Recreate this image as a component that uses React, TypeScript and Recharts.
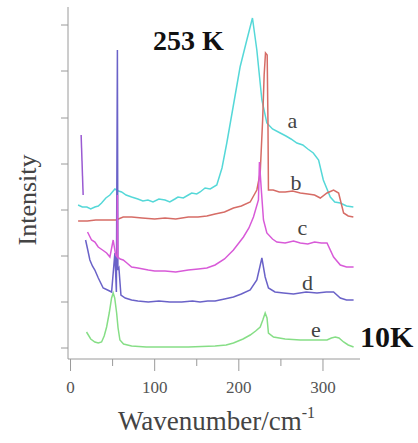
import React from "react";
import { LineChart, Line, XAxis, YAxis } from "recharts";

// Raman spectra, stacked with offsets (arbitrary intensity units)
const waveA = [9, 14, 19.4, 24, 28.9, 33, 36.9, 42, 46.8, 52.7, 57, 60.7, 66, 72.6, 80, 86, 92, 98, 105, 112.3, 118, 124, 127.7, 134, 140, 144, 150, 154, 159.9, 166, 173.8, 180, 185.7, 193.2, 201.5, 209.5, 216.2, 221.4, 227.4, 233.3, 240, 249.2, 256, 262, 269, 276, 282, 288.5, 294.8, 300.4, 308.7, 314, 320.6, 328, 336.1];
const intensityA = [153, 151, 151, 149, 151, 152, 155, 160, 163, 169, 167, 166, 163, 161, 159, 157, 158, 156, 159, 158, 156, 159, 161, 160, 163, 165, 164, 166, 170, 169, 173, 190, 215, 251, 291, 318, 340, 308, 258, 235, 229, 225, 222, 219, 215, 213, 209, 205, 198, 178, 161, 156, 155, 152, 151];

const waveB = [9, 20, 30, 44.8, 54, 62.6, 72.6, 85, 100, 112.3, 125, 140, 151.5, 162, 171.8, 183, 193.6, 203, 213.5, 221.4, 225.4, 228.3, 230.1, 231.7, 233.7, 234.6, 235.2, 240.8, 248, 255.1, 264, 273, 282, 290, 296.8, 304.8, 312.6, 318.6, 324.5, 330, 336.1];
const intensityB = [137, 137, 138, 138, 138, 141, 141, 140, 139, 140, 139, 141, 141, 142, 144, 146, 150, 152, 156, 168, 185, 238, 283, 305, 303, 238, 168, 168, 166, 166, 167, 165, 164, 163, 160, 165, 168, 165, 145, 142, 141];

const waveC = [20.2, 25, 29, 32.9, 38, 42.9, 46.8, 50.7, 53.6, 55.4, 55.7, 56.2, 59, 62.6, 67, 72.6, 80, 92.4, 100, 112.3, 125, 140, 151.9, 162, 171.8, 183, 193.6, 205.5, 212, 217.4, 223.3, 224.5, 227, 229.3, 233.3, 240, 245.2, 255, 265, 273, 282, 290, 298, 304.8, 312.6, 320.6, 328, 336.4];
const intensityC = [126, 118, 116, 111, 108, 105, 101, 118, 103, 101, 163, 101, 99, 98, 95, 91, 90, 88, 87, 87, 86, 88, 89, 90, 93, 99, 108, 121, 130, 141, 158, 196, 165, 138, 125, 119, 116, 115, 117, 115, 114, 116, 115, 115, 101, 93, 91, 91];

const waveD = [17.9, 20.5, 23, 26, 28.9, 33, 38.8, 44, 48.8, 52.7, 54.5, 55.7, 56.3, 57.5, 59.9, 65, 72.6, 80, 92.4, 105, 118, 132.1, 145, 153.9, 163, 171.8, 183, 193.6, 203, 213.5, 221.4, 227.4, 231.3, 235.2, 243, 253.1, 265, 280, 292.9, 304, 312.6, 320.6, 328, 336.4];
const intensityD = [118, 108, 98, 92, 88, 80, 70, 68, 66, 105, 66, 308, 88, 90, 63, 60, 58, 57, 56, 57, 56, 56, 57, 56, 57, 57, 59, 61, 64, 68, 78, 100, 81, 70, 66, 65, 64, 66, 65, 66, 66, 60, 58, 58];

const waveE = [19, 24, 28.9, 33, 36.9, 40, 42.9, 46, 48.8, 50.7, 52.5, 54.8, 56.5, 58.7, 63, 72.6, 90, 112.3, 140, 171.8, 185, 193.6, 205, 213.5, 220, 225.4, 228.5, 231.3, 233.5, 235.2, 241.2, 255, 273, 290, 304.8, 310, 314.6, 319, 324.5, 330, 336.4];
const intensityE = [26, 19, 16, 15, 16, 22, 31, 45, 60, 65, 60, 45, 30, 18, 14, 12, 11, 11, 11, 12, 13, 15, 19, 23, 27, 31, 38, 45, 40, 25, 21, 19, 18, 18, 18, 20, 21, 20, 16, 13, 11];

// laser line artifact near 13 cm-1
const waveSpike = [12.6, 15.0];
const intensitySpike = [223, 163];

const xTicks = [0, 50, 100, 150, 200, 250, 300];
const xTickLabels = ["0", "", "100", "", "200", "", "300"];
const yTicks = [10, 56, 102, 148, 194, 240, 287, 333];

const traceLabels = ["a", "b", "c", "d", "e"];

const toPoints = (w: number[], v: number[]) => w.map((x, i) => ({ w: x, v: v[i] }));

const axisColor = "#9a9a9a";
const serif = "'Liberation Serif', 'Times New Roman', serif";

// draw order matters: c over d makes the tall spike look magenta at the bottom
const series = [
  { key: "a", data: toPoints(waveA, intensityA), color: "#55d8d8" },
  { key: "b", data: toPoints(waveB, intensityB), color: "#d66c66" },
  { key: "e", data: toPoints(waveE, intensityE), color: "#86de86" },
  { key: "d", data: toPoints(waveD, intensityD), color: "#6a62c8" },
  { key: "c", data: toPoints(waveC, intensityC), color: "#d85ad8" },
  { key: "spike", data: toPoints(waveSpike, intensitySpike), color: "#9a5ad2" },
];

const labelPos: Record<string, [number, number]> = {
  a: [292.5, 128],
  b: [296, 190],
  c: [302.5, 235],
  d: [307.5, 290],
  e: [316, 337],
};

function XTick(props: any) {
  const { x, y, payload } = props;
  const i = xTicks.indexOf(payload.value);
  const label = xTickLabels[i];
  const major = label !== "";
  return (
    <g>
      <line x1={x} x2={x} y1={y} y2={y + (major ? 12 : 7)} stroke={axisColor} />
      {major && (
        <text x={x} y={y + 34} textAnchor="middle" fontSize={17} fontFamily={serif} fill="#555">
          {label}
        </text>
      )}
    </g>
  );
}

function YTick(props: any) {
  const { x, y } = props;
  return <line x1={x - 7} x2={x} y1={y} y2={y} stroke={axisColor} />;
}

export default function App() {
  return (
    <div style={{ position: "absolute", left: 0, top: 0, width: 418, height: 443, background: "#fff" }}>
      <LineChart width={418} height={443} margin={{ top: 7, right: 58, left: 48, bottom: 34 }}>
        <XAxis
          type="number"
          dataKey="w"
          domain={[-3, 344]}
          ticks={xTicks}
          interval={0}
          allowDataOverflow
          height={50}
          tickSize={0}
          tickMargin={0}
          tickLine={false}
          tick={<XTick />}
          axisLine={{ stroke: axisColor }}
        />
        <YAxis
          type="number"
          dataKey="v"
          domain={[-1, 351]}
          ticks={yTicks}
          interval={0}
          allowDataOverflow
          width={20}
          tickSize={0}
          tickMargin={0}
          tickLine={false}
          tick={<YTick />}
          axisLine={{ stroke: axisColor }}
        />
        {series.map((s) => (
          <Line
            key={s.key}
            data={s.data}
            dataKey="v"
            type="linear"
            stroke={s.color}
            strokeWidth={1.5}
            dot={false}
            activeDot={false}
            isAnimationActive={false}
          />
        ))}
      </LineChart>
      <svg
        width={418}
        height={443}
        style={{ position: "absolute", left: 0, top: 0, pointerEvents: "none" }}
        fontFamily={serif}
      >
        <text x={153} y={50} fontSize={28} fontWeight="bold" fill="#111">253 K</text>
        <text x={360} y={347} fontSize={30} fontWeight="bold" fill="#111">10K</text>
        {traceLabels.map((t) => (
          <text key={t} x={labelPos[t][0]} y={labelPos[t][1]} textAnchor="middle" fontSize={22} fill="#444">
            {t}
          </text>
        ))}
        <text x={36} y={200} textAnchor="middle" fontSize={26} fill="#444" transform="rotate(-90 36 200)">
          Intensity
        </text>
        <text x={118} y={430} fontSize={27} fill="#444">
          Wavenumber/cm<tspan fontSize={16} dy={-12}>-1</tspan>
        </text>
      </svg>
    </div>
  );
}
